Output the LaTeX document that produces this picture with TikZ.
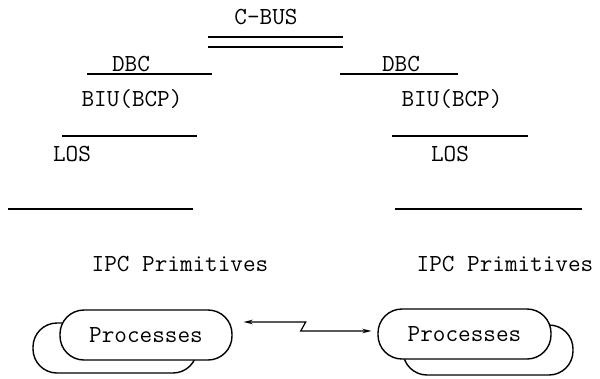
\documentclass[tikz,border=0pt]{standalone}
\usepackage{fontspec}
\usetikzlibrary{arrows.meta}
\tikzset{
  lbl/.style={font=\ttfamily\fontsize{24.5}{28}\selectfont, inner sep=0pt, anchor=base},
  rule/.style={line width=1.2pt},
  procbox/.style={draw, line width=1.4pt, fill=white, rounded corners=24pt, minimum height=50pt, inner sep=0pt, font=\ttfamily\fontsize{24.5}{28}\selectfont},
  link/.style={line width=1.2pt, {Stealth[length=9pt,width=4.5pt]}-{Stealth[length=9pt,width=4.5pt]}}
}
\begin{document}
\begin{tikzpicture}[x=1pt,y=-1pt]
\useasboundingbox[fill=white] (0,0) rectangle (600,378);
% C-BUS
\node[lbl] (cbus) at (266,24) {C-BUS};
\draw[rule] (208,37) -- (343,37);
\draw[rule] (208,47) -- (343,47);
% left stack
\node[lbl] (dbcl) at (131,71) {DBC};
\draw[rule] (87,74) -- (212,74);
\node[lbl] (biul) at (132,106) {BIU(BCP)};
\draw[rule] (62,136) -- (197,136);
\node[lbl] (losl) at (72,161) {LOS};
\draw[rule] (8,209) -- (193,209);
\node[lbl] (ipcl) at (180,271) {IPC Primitives};
% right stack
\node[lbl] (dbcr) at (401,71) {DBC};
\draw[rule] (340,74) -- (458,74);
\node[lbl] (biur) at (452,106) {BIU(BCP)};
\draw[rule] (392,136) -- (528,136);
\node[lbl] (losr) at (450,161) {LOS};
\draw[rule] (395,209) -- (582,209);
\node[lbl] (ipcr) at (505,271) {IPC Primitives};
% process boxes
\node[procbox, minimum width=164pt] (lpb) at (115,348) {};
\node[procbox, minimum width=172pt] (lpf) at (146,335) {Processes};
\node[procbox, minimum width=170pt] (rpb) at (488,350) {};
\node[procbox, minimum width=173pt] (rpf) at (464.5,334) {Processes};
% connector
\draw[link] ([shift={(11,-13)}]lpf.east) -- ++(62,0) -- ++(-5,9) -- ([shift={(-6,-3)}]rpf.west);
\end{tikzpicture}
\end{document}
